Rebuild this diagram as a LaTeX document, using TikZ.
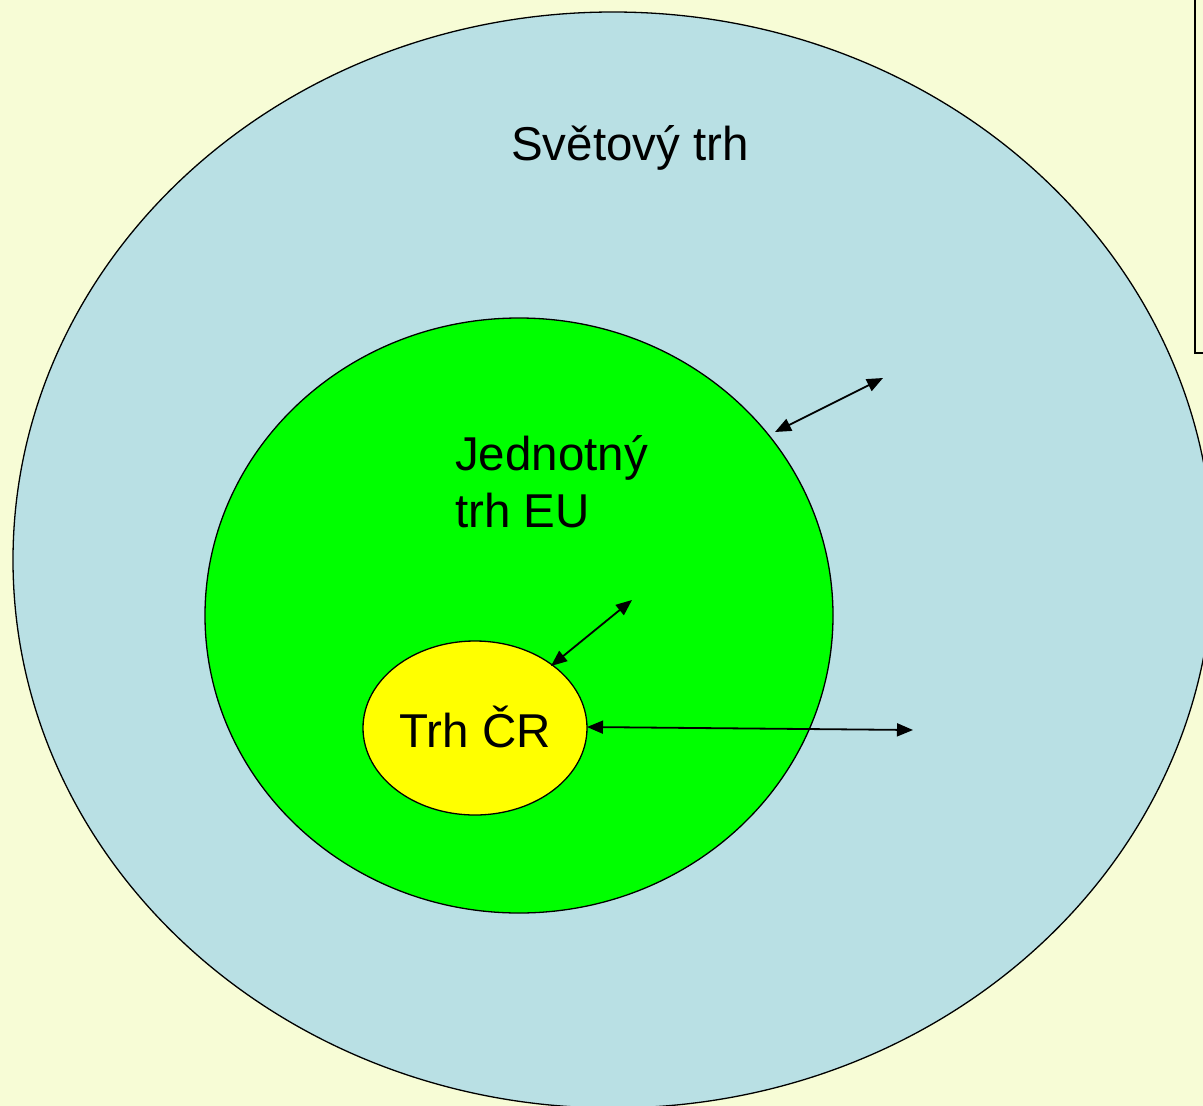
\documentclass[tikz,border=0pt]{standalone}
\usepackage{fontspec}
\setmainfont{Liberation Sans}
\usetikzlibrary{arrows.meta}
\definecolor{bgc}{RGB}{247,252,214}
\definecolor{worldc}{RGB}{185,224,228}
\definecolor{euc}{RGB}{0,255,0}
\definecolor{crc}{RGB}{255,255,0}
\begin{document}
\begin{tikzpicture}[x=1pt,y=-1pt,
  market/.style={draw=black,line width=1.3pt},
  lbl/.style={font=\fontsize{47.5}{57}\selectfont,inner sep=0pt},
  link/.style={line width=1.8pt,{Triangle[length=16pt,width=13pt]}-{Triangle[length=16pt,width=13pt]}}]
\useasboundingbox (0,0) rectangle (1203,1106);
\clip (0,0) rectangle (1203,1106);
\fill[bgc] (0,0) rectangle (1203,1106);
\draw[line width=1.8pt] (1195,-5) -- (1195,353) -- (1210,353);
\draw[market,fill=worldc] (613,560) ellipse [x radius=600, y radius=548];
\draw[market,fill=euc] (519,615.5) ellipse [x radius=314, y radius=297.5];
\draw[market,fill=crc] (475,728) ellipse [x radius=112, y radius=87];
\node[lbl,anchor=base] (world) at (630,160) {Světový trh};
\node[lbl,anchor=base west] (eu1) at (455,470) {Jednotný};
\node[lbl,anchor=base west] (eu2) at (455,527) {trh EU};
\node[lbl,anchor=base] (cr) at (475,747) {Trh ČR};
\coordinate (a1s) at (775,432); \coordinate (a1e) at (883,378);
\coordinate (a2s) at (551,666); \coordinate (a2e) at (632,600);
\coordinate (a3s) at (587,727); \coordinate (a3e) at (913,730);
\draw[link] (a1s) -- (a1e);
\draw[link] (a2s) -- (a2e);
\draw[link] (a3s) -- (a3e);
\end{tikzpicture}
\end{document}
